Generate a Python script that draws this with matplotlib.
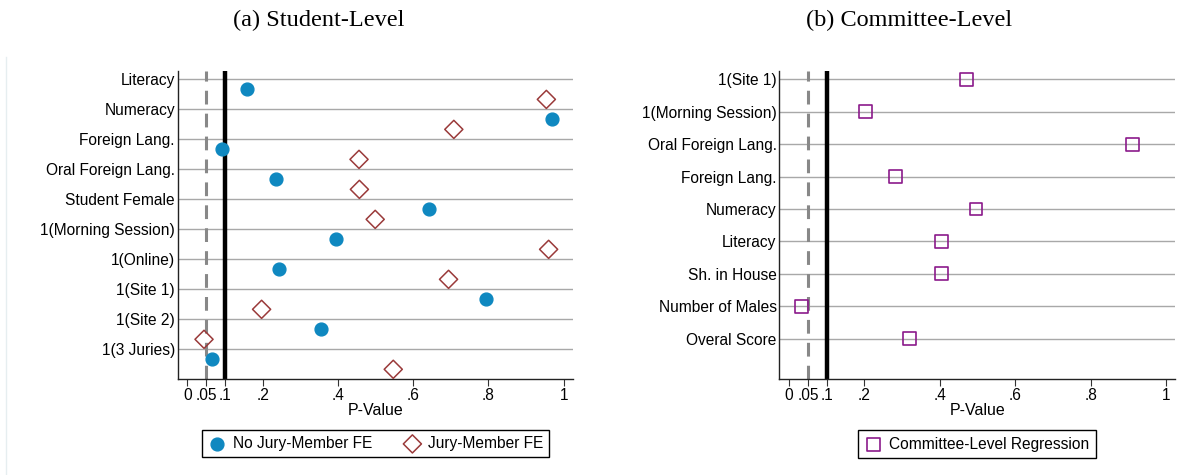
import matplotlib
matplotlib.use("Agg")
import matplotlib.pyplot as plt
from matplotlib.lines import Line2D
import numpy as np

# (a) student-level p-values
student_vars = ["Literacy", "Numeracy", "Foreign Lang.", "Oral Foreign Lang.",
                "Student Female", "1(Morning Session)", "1(Online)", "1(Site 1)",
                "1(Site 2)", "1(3 Juries)"]
p_no_fe = [0.157, 0.968, 0.092, 0.234, 0.641, 0.394, 0.242, 0.793, 0.355, 0.066]
p_fe = [0.954, 0.708, 0.456, 0.457, 0.499, 0.960, 0.694, 0.197, 0.044, 0.547]

# (b) committee-level p-values
committee_vars = ["1(Site 1)", "1(Morning Session)", "Oral Foreign Lang.", "Foreign Lang.",
                  "Numeracy", "Literacy", "Sh. in House", "Number of Males", "Overal Score"]
p_committee = [0.470, 0.203, 0.912, 0.282, 0.496, 0.404, 0.404, 0.032, 0.319]

xticks = [0, 0.05, 0.1, 0.2, 0.4, 0.6, 0.8, 1]
xticklabels = ["0", ".05", ".1", ".2", ".4", ".6", ".8", "1"]

BLUE = "#0f88c0"
RED = "#9a3a3a"
PURPLE = "#8b1a8b"
GRID = "#a8a8a8"
FS = 11.2

plt.rcParams["font.family"] = ["Liberation Sans", "DejaVu Sans"]

W, H = 1182, 475
fig = plt.figure(figsize=(W / 100, H / 100), dpi=100)


def px_axes(left, right, top, bottom):
    return fig.add_axes([left / W, 1 - bottom / H, (right - left) / W, (bottom - top) / H])


def style(ax):
    ax.set_xlim(-0.026, 1.024)
    ax.set_xticks(xticks)
    ax.set_xticklabels(xticklabels)
    ax.spines["top"].set_visible(False)
    ax.spines["right"].set_visible(False)
    for s in ("left", "bottom"):
        ax.spines[s].set_color("#222222")
        ax.spines[s].set_linewidth(1.0)
    ax.tick_params(axis="y", length=0, pad=2, labelsize=FS)
    ax.tick_params(axis="x", length=5, width=0.8, color="#333333", pad=1.5, labelsize=FS)
    ax.yaxis.grid(True, color=GRID, linewidth=1.0)
    ax.set_axisbelow(True)
    ax.axvline(0.05, color="#888888", linestyle=(0, (4.5, 3)), linewidth=2.2, zorder=1)
    ax.axvline(0.1, color="black", linewidth=3.2, zorder=1)
    ax.set_xlabel("P-Value", fontsize=FS + 0.3, labelpad=0)


# left panel
ax1 = px_axes(177.7, 572.7, 70.7, 379)
rows = np.arange(len(student_vars))
ax1.scatter(p_no_fe, rows + 1 / 3, s=85, color=BLUE, marker="o", zorder=3,
            label="No Jury-Member FE")
ax1.scatter(p_fe, rows + 2 / 3, s=85, facecolors="none", edgecolors=RED, marker="D",
            linewidths=1.1, zorder=3, label="Jury-Member FE")
ax1.set_yticks(rows)
ax1.set_yticklabels(student_vars)
ax1.set_ylim(9.99, -0.29)
style(ax1)

# right panel
ax2 = px_axes(779.3, 1175, 70.7, 379)
rows2 = np.arange(len(committee_vars))
ax2.scatter(p_committee, rows2, s=85, facecolors="none", edgecolors=PURPLE, marker="s",
            linewidths=1.2, zorder=3, label="Committee-Level Regression")
ax2.set_yticks(rows2)
ax2.set_yticklabels(committee_vars)
ax2.set_ylim(9.25, -0.27)
style(ax2)

# titles
fig.text(319 / W, 1 - 20 / H, "(a) Student-Level", family="Liberation Serif",
         fontsize=17.5, ha="center", va="center")
fig.text(909 / W, 1 - 20 / H, "(b) Committee-Level", family="Liberation Serif",
         fontsize=17.5, ha="center", va="center")

# legends
leg_kw = dict(loc="center", frameon=True, fancybox=False, framealpha=1, fontsize=FS,
              edgecolor="black", handletextpad=0.4, borderpad=0.4, columnspacing=2.0,
              handlelength=1.2)
h1, l1 = ax1.get_legend_handles_labels()
lg1 = fig.legend(h1, l1, ncol=2, bbox_to_anchor=(375.5 / W, 1 - 443.5 / H), **leg_kw)
lg1.get_frame().set_linewidth(1.0)
h2, l2 = ax2.get_legend_handles_labels()
lg2 = fig.legend(h2, l2, ncol=1, bbox_to_anchor=(977 / W, 1 - 444 / H), **leg_kw)
lg2.get_frame().set_linewidth(1.0)

# faint outer graph-region line
fig.add_artist(Line2D([6 / W, 6 / W], [0, 1 - 57 / H], transform=fig.transFigure,
                      color="#e6eef0", linewidth=1))

fig.savefig("out.png", dpi=100)
